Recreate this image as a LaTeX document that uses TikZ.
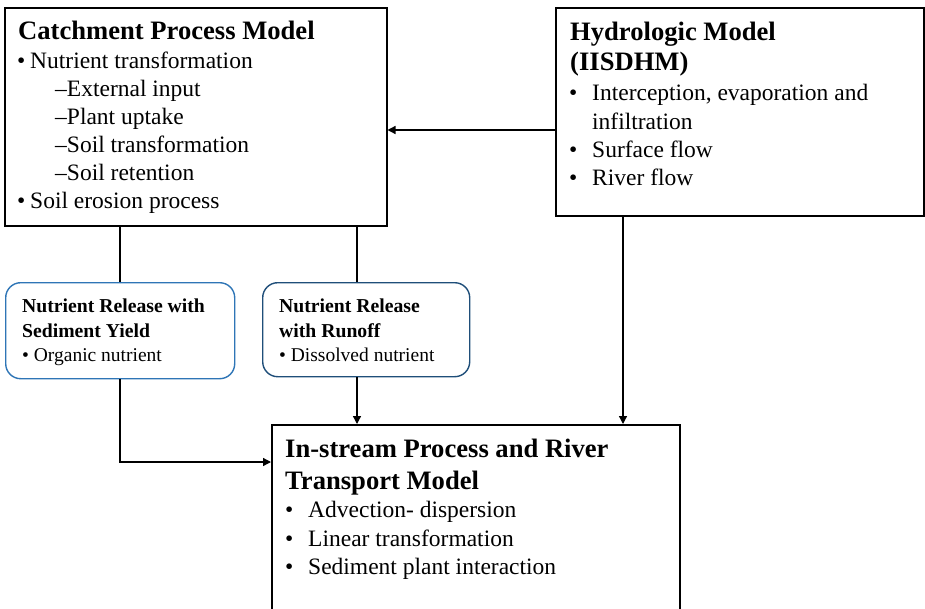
\documentclass[tikz,border=0pt]{standalone}
\usepackage{fontspec}
\setmainfont{Liberation Serif}
\usetikzlibrary{arrows.meta}
\definecolor{blueA}{RGB}{46,117,182}
\definecolor{blueB}{RGB}{31,78,121}
\tikzset{
  box/.style={draw=black, line width=1.5pt, rectangle, inner sep=0pt, anchor=north west},
  rbox/.style={line width=1.4pt, rectangle, rounded corners=15pt, inner sep=0pt, anchor=north west},
  ttl/.style={anchor=base west, inner sep=0pt, font=\fontsize{26.6}{30}\selectfont\bfseries},
  txt/.style={anchor=base west, inner sep=0pt, font=\fontsize{23.5}{28}\selectfont},
  stxt/.style={anchor=base west, inner sep=0pt, font=\fontsize{19.7}{24}\selectfont\bfseries},
  sbody/.style={anchor=base west, inner sep=0pt, font=\fontsize{19.5}{22}\selectfont},
  conn/.style={line width=1.3pt, draw=black},
  arr/.style={conn, -{Triangle[length=8pt,width=8pt]}}
}
\begin{document}
\begin{tikzpicture}[x=1pt,y=-1pt]
\useasboundingbox (0,0) rectangle (925,608);
\clip (0,0) rectangle (925,608);
% boxes
\node[box, minimum width=382pt, minimum height=218pt] (catch) at (4,7) {};
\node[box, minimum width=368pt, minimum height=208pt] (hydro) at (555,7) {};
\node[rbox, draw=blueA, minimum width=229pt, minimum height=96pt] (sed) at (5,282) {};
\node[rbox, draw=blueB, minimum width=207pt, minimum height=94pt] (run) at (262,282) {};
\node[box, minimum width=408pt, minimum height=200pt] (instr) at (271,424) {};
% catchment text
\node[ttl] (t1) at (18,39) {Catchment Process Model};
\node[txt] (c1b) at (17,68) {•};
\node[txt] (c1) at (30,68) {Nutrient transformation};
\node[txt] (c2) at (55,96) {–External input};
\node[txt] (c3) at (55,124) {–Plant uptake};
\node[txt] (c4) at (55,152) {–Soil transformation};
\node[txt] (c5) at (55,180) {–Soil retention};
\node[txt] (c6b) at (17,208) {•};
\node[txt] (c6) at (30,208) {Soil erosion process};
% hydro text
\node[ttl] (t2) at (570,40) {Hydrologic Model};
\node[ttl] (t3) at (570,70) {(IISDHM)};
\node[txt] (h1b) at (569,100) {•};
\node[txt] (h1) at (592,100) {Interception, evaporation and};
\node[txt] (h2) at (592,129) {infiltration};
\node[txt] (h3b) at (569,157) {•};
\node[txt] (h3) at (592,157) {Surface flow};
\node[txt] (h4b) at (569,185) {•};
\node[txt] (h4) at (592,185) {River flow};
% blue box texts
\node[stxt] (s1) at (22,312) {Nutrient Release with};
\node[stxt] (s2) at (22,337) {Sediment Yield};
\node[sbody] (s3) at (22,361) {• Organic nutrient};
\node[stxt] (r1) at (279,312) {Nutrient Release};
\node[stxt] (r2) at (279,337) {with Runoff};
\node[sbody] (r3) at (279,361) {• Dissolved nutrient};
% in-stream text
\node[ttl] (t4) at (285,457) {In-stream Process and River};
\node[ttl] (t5) at (285,489) {Transport Model};
\node[txt] (i1b) at (285,517) {•};
\node[txt] (i1) at (308,517) {Advection- dispersion};
\node[txt] (i2b) at (285,546) {•};
\node[txt] (i2) at (308,546) {Linear transformation};
\node[txt] (i3b) at (285,574) {•};
\node[txt] (i3) at (308,574) {Sediment plant interaction};
% connectors
\draw[arr] (hydro.west |- 0,130) -- (catch.east |- 0,130);
\draw[conn] (catch.south -| 120,0) -- (sed.north -| 120,0);
\draw[conn] (catch.south -| 357,0) -- (run.north -| 357,0);
\draw[arr] (sed.south -| 120,0) |- (instr.west |- 0,462);
\draw[arr] (run.south -| 357,0) -- (instr.north -| 357,0);
\draw[arr] (hydro.south -| 623,0) -- (instr.north -| 623,0);
\end{tikzpicture}
\end{document}
